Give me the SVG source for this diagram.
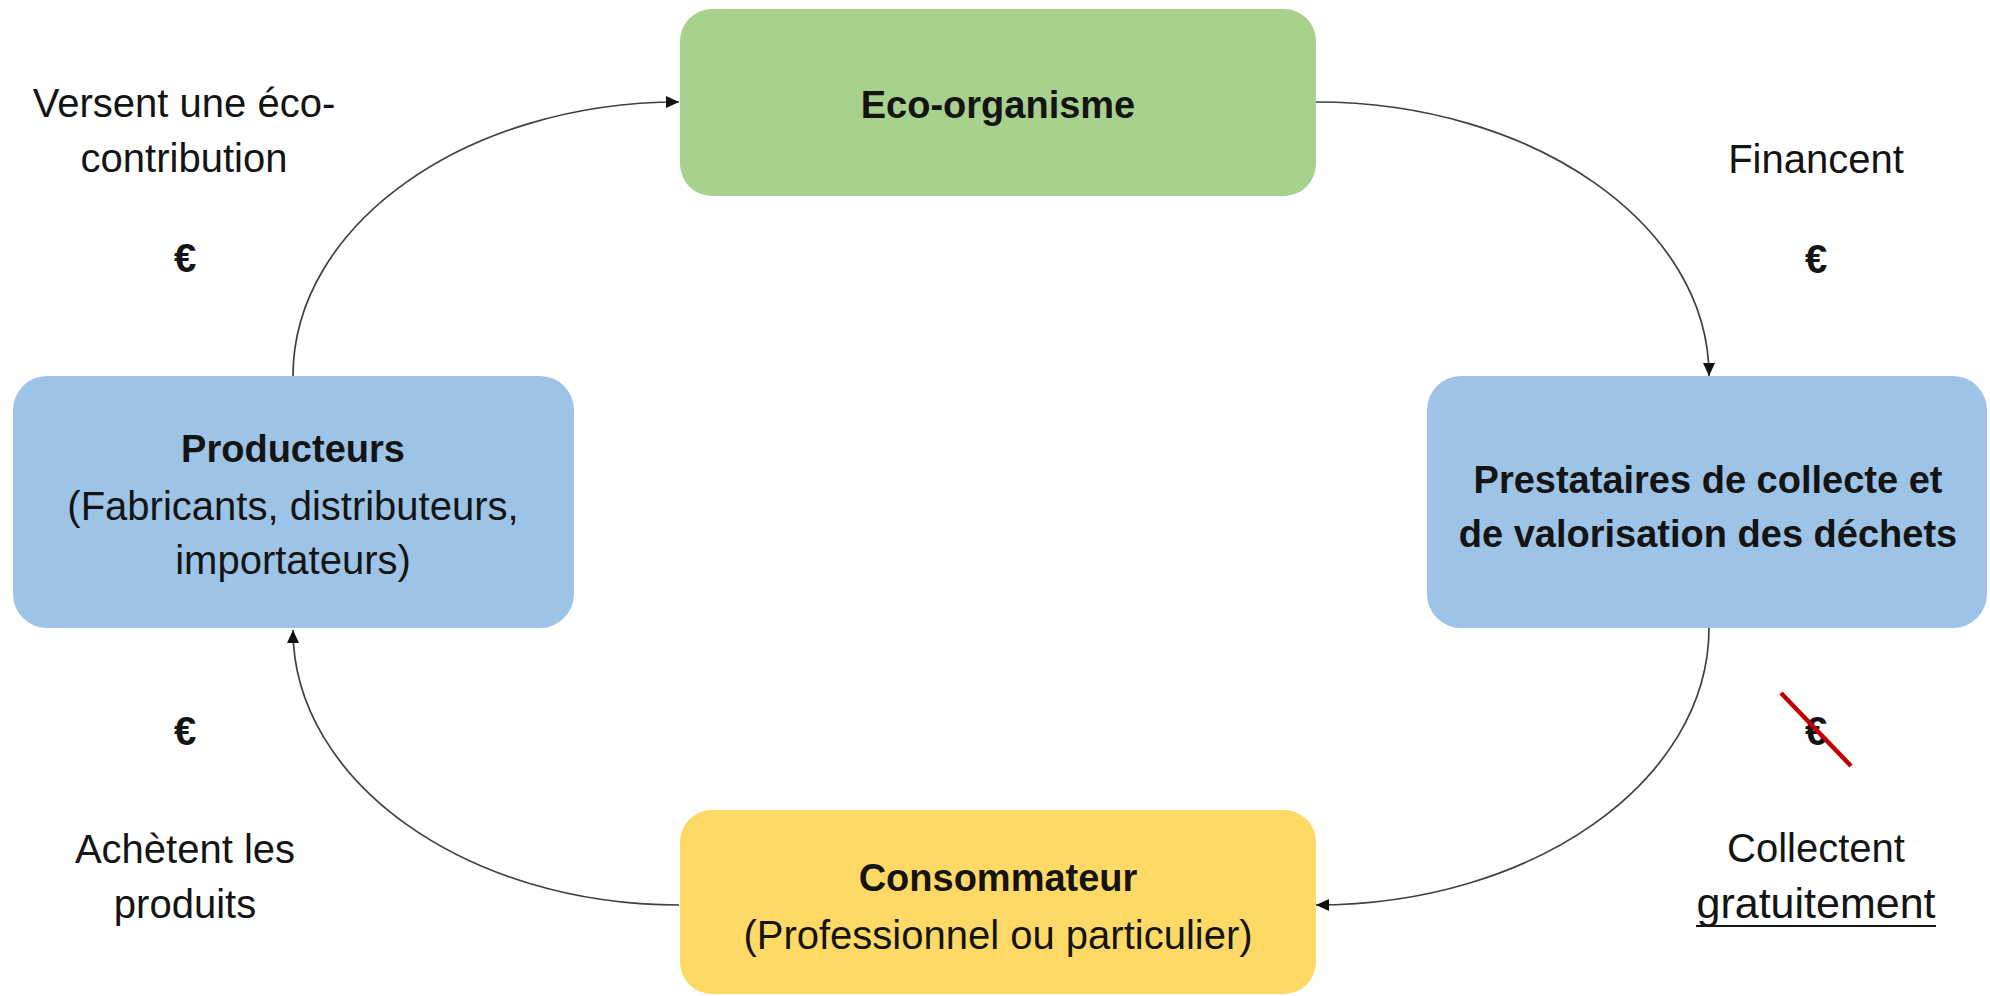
<svg xmlns="http://www.w3.org/2000/svg" width="1990" height="996" viewBox="0 0 1990 996">
<style>
.t{font-family:"Liberation Sans",Arial,sans-serif;font-size:40px;fill:#141414;text-anchor:middle}
.b{font-weight:bold;font-size:38px}
.eu{font-weight:bold;font-size:40px}
.c{fill:none;stroke:#404040;stroke-width:1.7}
</style>
<defs>
<marker id="ah" markerUnits="userSpaceOnUse" markerWidth="14" markerHeight="12" refX="13" refY="6" orient="auto">
<path d="M0,0 L13,6 L0,12 Z" fill="#111"/>
</marker>
</defs>
<rect width="1990" height="996" fill="#fff"/>
<g id="connectors">
<path class="c" d="M293 376 C293 225 466 102 679 102" marker-end="url(#ah)"/>
<path class="c" d="M1316 102 C1533 102 1709 225 1709 376" marker-end="url(#ah)"/>
<path class="c" d="M1709 628 C1709 781 1533 905 1316 905" marker-end="url(#ah)"/>
<path class="c" d="M679 905 C466 905 293 781 293 630" marker-end="url(#ah)"/>
</g>
<g id="eco">
<rect x="680" y="9" width="636" height="187" rx="32" fill="#A9D18E"/>
<text class="t b" x="998" y="118">Eco-organisme</text>
</g>
<g id="producteurs">
<rect x="13" y="376" width="561" height="252" rx="34" fill="#9DC3E6"/>
<text class="t b" x="293" y="462">Producteurs</text>
<text class="t" x="293" y="520">(Fabricants, distributeurs,</text>
<text class="t" x="293" y="574">importateurs)</text>
</g>
<g id="prestataires">
<rect x="1427" y="376" width="560" height="252" rx="34" fill="#9DC3E6"/>
<text class="t b" x="1708" y="493">Prestataires de collecte et</text>
<text class="t b" x="1708" y="547">de valorisation des déchets</text>
</g>
<g id="consommateur">
<rect x="680" y="810" width="636" height="184" rx="32" fill="#FFD966"/>
<text class="t b" x="998" y="891">Consommateur</text>
<text class="t" x="998" y="949">(Professionnel ou particulier)</text>
</g>
<g id="labels">
<text class="t" x="184" y="117">Versent une éco-</text>
<text class="t" x="184" y="172">contribution</text>
<text class="t eu" x="185" y="272">€</text>
<text class="t" x="1816" y="173">Financent</text>
<text class="t eu" x="1816" y="273">€</text>
<text class="t eu" x="185" y="745">€</text>
<text class="t" x="185" y="863">Achètent les</text>
<text class="t" x="185" y="918">produits</text>
<text class="t eu" x="1816" y="745">€</text>
<line x1="1781" y1="693" x2="1851" y2="766" stroke="#C00000" stroke-width="4.5"/>
<text class="t" x="1816" y="862">Collectent</text>
<text class="t" x="1816" y="918" style="font-size:43px">gratuitement</text>
<line x1="1696" y1="926" x2="1936" y2="926" stroke="#141414" stroke-width="2"/>
</g>
</svg>
